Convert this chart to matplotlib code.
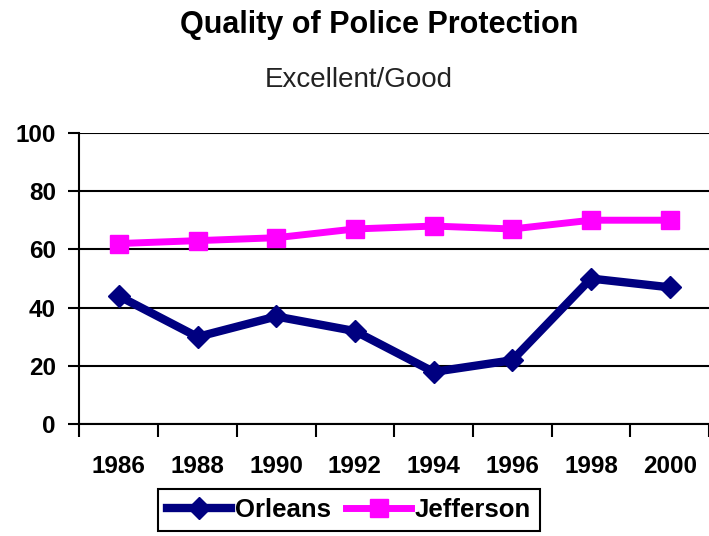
import matplotlib.pyplot as plt
import numpy as np

plt.rcParams['font.family'] = ['Liberation Sans', 'DejaVu Sans']

years = ['1986', '1988', '1990', '1992', '1994', '1996', '1998', '2000']
orleans = [44, 30, 37, 32, 18, 22, 50, 47]
jefferson = [62, 63, 64, 67, 68, 67, 70, 70]

x = np.arange(len(years))

fig = plt.figure(figsize=(7.09, 5.36), dpi=100)
ax = fig.add_axes([0.1121, 0.2082, 0.8879, 0.5442])

# horizontal grid, drawn under the lines
ax.set_axisbelow(True)
ax.yaxis.grid(True, color='black', linewidth=1.5)

ax.plot(x, orleans, color='#000080', linewidth=6, marker='D', markersize=11,
        label='Orleans')
ax.plot(x, jefferson, color='#FF00FF', linewidth=5, marker='s', markersize=13,
        label='Jefferson')

ax.set_ylim(0, 100)
ax.set_xlim(-0.5, 7.46)
ax.set_yticks([0, 20, 40, 60, 80, 100])

# year labels sit in the middle of each category, tick marks between them
ax.set_xticks(x)
ax.set_xticklabels(years)
ax.set_xticks(np.arange(-0.5, 8, 1), minor=True)
ax.tick_params(axis='x', which='major', length=0, pad=22, labelsize=17.5)
ax.tick_params(axis='x', which='minor', length=9, width=1.5, direction='out')
ax.tick_params(axis='y', length=8, width=1.5, direction='out', pad=9, labelsize=17.5)
for lbl in ax.get_xticklabels() + ax.get_yticklabels():
    lbl.set_fontweight('bold')

for side in ['top', 'right']:
    ax.spines[side].set_visible(False)
ax.spines['left'].set_linewidth(1.5)
ax.spines['bottom'].set_linewidth(1.5)

fig.text(0.5346, 0.9379, 'Quality of Police Protection', ha='center', va='baseline',
         fontsize=22, fontweight='bold')
fig.text(0.5056, 0.837, 'Excellent/Good', ha='center', va='baseline',
         fontsize=20, color='#222222')

leg = fig.legend(loc='center', bbox_to_anchor=(0.492, 0.0476), ncol=2,
                 prop={'size': 18.5, 'weight': 'bold'}, fancybox=False,
                 edgecolor='black', handlelength=2.5, handletextpad=0.15,
                 columnspacing=0.6, borderpad=0.35, borderaxespad=0, framealpha=1)
leg.get_frame().set_linewidth(1.5)

plt.savefig('out.png', dpi=100)
